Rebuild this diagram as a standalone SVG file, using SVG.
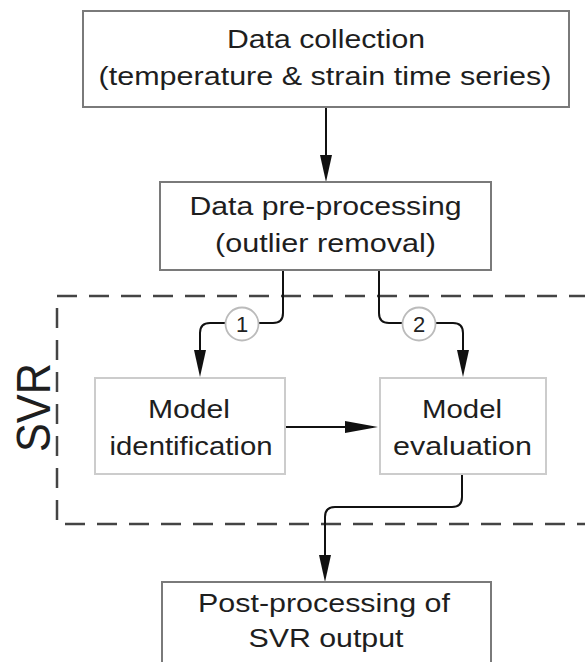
<svg xmlns="http://www.w3.org/2000/svg" width="585" height="662" viewBox="0 0 585 662">
  <style>
    .box { fill: #ffffff; stroke: #7a7a7a; stroke-width: 2; }
    .lbox { fill: #ffffff; stroke: #cccccc; stroke-width: 2; }
    .t { font-family: "Liberation Sans", Arial, sans-serif; font-size: 26px; fill: #1e1e1e; text-anchor: middle; }
    .conn { fill: none; stroke: #111111; stroke-width: 2; }
    .num { fill: #ffffff; stroke: #bbbbbb; stroke-width: 1.8; }
    .nt { font-family: "Liberation Sans", Arial, sans-serif; font-size: 22px; fill: #222222; text-anchor: middle; }
    .group { fill: none; stroke: #444444; stroke-width: 2.5; stroke-dasharray: 20 12; }
  </style>
  <defs>
    <marker id="arr" markerUnits="userSpaceOnUse" markerWidth="28" markerHeight="13" refX="22" refY="6" orient="auto">
      <path d="M0,0 L27,6 L0,12 Z" fill="#111111"/>
    </marker>
    <marker id="arrH" markerUnits="userSpaceOnUse" markerWidth="34" markerHeight="13" refX="28" refY="6" orient="auto">
      <path d="M0,0 L33,6 L0,12 Z" fill="#111111"/>
    </marker>
  </defs>
  <rect width="585" height="662" fill="#ffffff"/>

  <g id="svr-group">
    <rect class="group" x="57" y="296" width="540" height="228"/>
    <text class="t" transform="translate(50,407.5) rotate(-90)" x="0" y="0" style="font-size:48px" textLength="89" lengthAdjust="spacingAndGlyphs">SVR</text>
  </g>

  <g id="connectors">
    <path class="conn" d="M326,107 V177" marker-end="url(#arr)"/>
    <path class="conn" d="M283,270 V313 Q283,323 273,323 H210 Q200,323 200,333 V372" marker-end="url(#arr)"/>
    <path class="conn" d="M379,270 V313 Q379,323 389,323 H453 Q463,323 463,333 V372" marker-end="url(#arr)"/>
    <path class="conn" d="M285,427 H373" marker-end="url(#arrH)"/>
    <path class="conn" d="M462,474 V497 Q462,507 452,507 H335 Q325,507 325,517 V577" marker-end="url(#arr)"/>
    <g id="label-1">
      <circle class="num" cx="242" cy="324" r="16.5"/>
      <text class="nt" x="242" y="332">1</text>
    </g>
    <g id="label-2">
      <circle class="num" cx="419" cy="324" r="16.5"/>
      <text class="nt" x="419" y="332">2</text>
    </g>
  </g>

  <g id="data-collection">
    <rect class="box" x="83" y="11" width="486" height="96"/>
    <text class="t" x="326" y="48" textLength="198" lengthAdjust="spacingAndGlyphs">Data collection</text>
    <text class="t" x="325" y="85" textLength="453" lengthAdjust="spacingAndGlyphs">(temperature &amp; strain time series)</text>
  </g>

  <g id="data-preprocessing">
    <rect class="box" x="160" y="182" width="331" height="88"/>
    <text class="t" x="325.5" y="215" textLength="272" lengthAdjust="spacingAndGlyphs">Data pre-processing</text>
    <text class="t" x="325.5" y="252" textLength="221" lengthAdjust="spacingAndGlyphs">(outlier removal)</text>
  </g>

  <g id="model-identification">
    <rect class="lbox" x="95" y="378" width="190" height="96"/>
    <text class="t" x="189" y="418" textLength="82" lengthAdjust="spacingAndGlyphs">Model</text>
    <text class="t" x="191" y="455" textLength="163" lengthAdjust="spacingAndGlyphs">identification</text>
  </g>

  <g id="model-evaluation">
    <rect class="lbox" x="380" y="378" width="166" height="96"/>
    <text class="t" x="462" y="418" textLength="80" lengthAdjust="spacingAndGlyphs">Model</text>
    <text class="t" x="462.5" y="455" textLength="139" lengthAdjust="spacingAndGlyphs">evaluation</text>
  </g>

  <g id="post-processing">
    <rect class="box" x="162" y="582" width="329" height="100"/>
    <text class="t" x="324" y="612" textLength="252" lengthAdjust="spacingAndGlyphs">Post-processing of</text>
    <text class="t" x="326" y="647" textLength="155" lengthAdjust="spacingAndGlyphs">SVR output</text>
  </g>
</svg>
